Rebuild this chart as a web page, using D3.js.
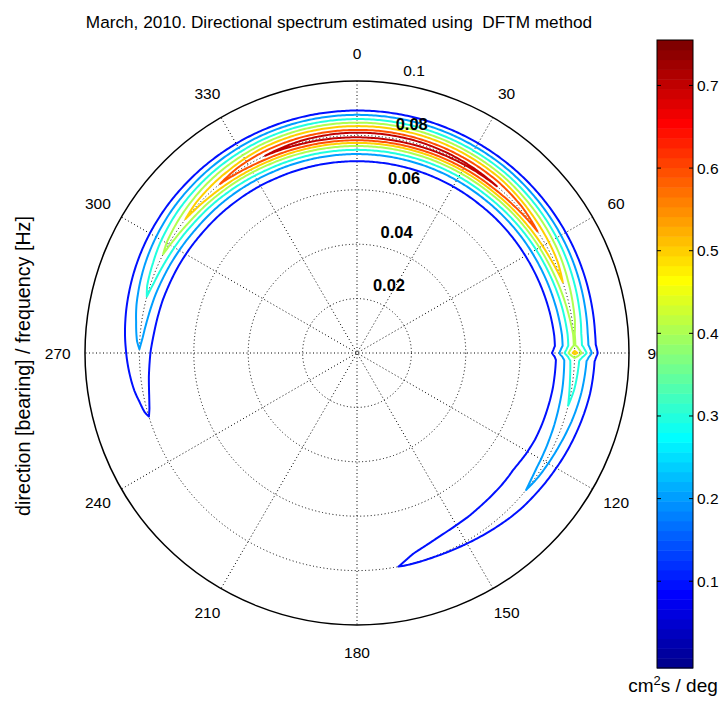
<!DOCTYPE html>
<html>
<head>
<meta charset="utf-8">
<script src="https://cdn.jsdelivr.net/npm/d3@7"></script>
<style>
  body { margin: 0; background: #fff; }
  text { font-family: "Liberation Sans", Arial, Helvetica, sans-serif; }
</style>
</head>
<body>
<div id="chart"></div>
<script>
// Directional spectrum, March 2010 (DFTM method)

// spectral density along the crest of the ring, by bearing (deg), going clockwise from 180 round to 180
const bearings = [180, 200, 220, 240, 253, 262, 271, 278, 285, 291, 297, 303, 308, 315, 321, 328, 335, 345, 355,
    5, 15, 25, 40, 48, 56, 64, 71, 78, 85, 88, 89, 90, 91, 92, 95, 100, 104, 110, 120, 129, 140, 150, 160, 165, 169, 175, 180];
const crestDensity = [0, 0.01, 0.03, 0.06, 0.1, 0.15, 0.2, 0.25, 0.3, 0.35, 0.4, 0.45, 0.5, 0.55, 0.6, 0.65, 0.7, 0.735, 0.75,
    0.755, 0.75, 0.735, 0.7, 0.65, 0.6, 0.55, 0.5, 0.45, 0.41, 0.41, 0.47, 0.54, 0.42, 0.36, 0.345, 0.32, 0.3, 0.27, 0.23, 0.2, 0.172, 0.147, 0.122, 0.11, 0.1, 0.07, 0.04];

// relative shape of the spectrum across frequency (Hz)
const freqs = [0.058, 0.064, 0.066, 0.068, 0.070, 0.071, 0.072, 0.073, 0.074, 0.075, 0.076, 0.077, 0.078, 0.079, 0.080,
    0.081, 0.082, 0.083, 0.084, 0.085, 0.086, 0.087, 0.088, 0.089, 0.090, 0.092, 0.094, 0.096, 0.102];
const freqShape = [0, 0, 0.03, 0.07, 0.115, 0.15, 0.2, 0.255, 0.33, 0.43, 0.52, 0.63, 0.77, 0.9, 1,
    0.93, 0.8, 0.71, 0.6, 0.5, 0.4, 0.31, 0.23, 0.14, 0.09, 0.04, 0.01, 0, 0];

// in the south-east tail the spectrum reaches lower frequencies and is narrower above the crest
const spreadBearings = [90, 100, 112, 116, 121, 127, 133, 137, 146, 153, 159, 164, 169, 175];
const lowSideSpread = [1, 1.1, 1.3, 1.38, 1.57, 1.88, 2.03, 2.15, 2.45, 2.75, 3.0, 3.25, 3.3, 1];
const highSideSpread = [1, 1, 0.9, 0.86, 0.8, 0.74, 0.675, 0.6, 0.37, 0.2, 0.1, 0.1, 0.2, 1];

const levels = [0.1, 0.2, 0.3, 0.4, 0.5, 0.6, 0.7];
const radialTicks = [0.02, 0.04, 0.06, 0.08, 0.1];
const angleTicks = d3.range(0, 360, 30);
const colorTicks = [0.1, 0.2, 0.3, 0.4, 0.5, 0.6, 0.7];
const colorDomain = [-0.005, 0.755];

const width = 722, height = 705;
const cx = 357, cy = 353, R = 272;

const svg = d3.select('#chart').append('svg')
    .attr('width', width)
    .attr('height', height);

const rScale = d3.scaleLinear().domain([0, 0.1]).range([0, R]);

// MATLAB style jet colormap, 64 steps
function jetRow(i) { // i is 1-based
    const u = k => (k < 1 || k > 47) ? 0 : k <= 16 ? k / 16 : k <= 31 ? 1 : (48 - k) / 16;
    return d3.rgb(255 * u(i - 24), 255 * u(i - 8), 255 * u(i + 8)).toString();
}
const nColors = 64;
function colorFor(v) {
    let idx = Math.floor((v - colorDomain[0]) / (colorDomain[1] - colorDomain[0]) * nColors) + 1;
    idx = Math.max(1, Math.min(nColors, idx));
    return jetRow(idx);
}

function toXY(bearing, f) {
    const a = bearing * Math.PI / 180, r = rScale(f);
    return [cx + r * Math.sin(a), cy - r * Math.cos(a)];
}

// ---- grid ----
const grid = svg.append('g').attr('class', 'grid');
radialTicks.slice(0, -1).forEach(t => {
    grid.append('circle')
        .attr('cx', cx).attr('cy', cy).attr('r', rScale(t))
        .attr('fill', 'none').attr('stroke', '#000')
        .attr('stroke-width', 1).attr('stroke-dasharray', '1,2.5');
});
[0, 30, 60, 90, 120, 150].forEach(b => {
    const p1 = toXY(b, 0.1), p2 = toXY(b + 180, 0.1);
    grid.append('line')
        .attr('x1', p1[0]).attr('y1', p1[1]).attr('x2', p2[0]).attr('y2', p2[1])
        .attr('stroke', '#000').attr('stroke-width', 1).attr('stroke-dasharray', '1,2.5');
});
grid.append('circle')
    .attr('cx', cx).attr('cy', cy).attr('r', rScale(0.1))
    .attr('fill', 'none').attr('stroke', '#000').attr('stroke-width', 1.5);

// angle labels
angleTicks.forEach(b => {
    const p = toXY(b, 0.11);
    svg.append('text')
        .attr('x', p[0]).attr('y', p[1])
        .attr('text-anchor', 'middle').attr('dominant-baseline', 'central')
        .attr('font-size', 15.5).text(b);
});

// ---- contours ----
function unwrap(list) {
    let prev = -Infinity, turn = 0;
    return list.map(b => {
        if (b + turn < prev) turn += 360;
        prev = b + turn;
        return b + turn;
    });
}
const unwrapped = unwrap(bearings);
const dirScale = d3.scaleLinear().domain(unwrapped).range(crestDensity).clamp(true);
const freqScale = d3.scaleLinear().domain(freqs).range(freqShape).clamp(true);
const spreadDomain = spreadBearings.map(b => b + 360);
const lowScale = d3.scaleLinear().domain(spreadDomain).range(lowSideSpread).clamp(true);
const highScale = d3.scaleLinear().domain(spreadDomain).range(highSideSpread).clamp(true);
const crestFreq = freqs[freqShape.indexOf(1)];

const th0 = unwrapped[0], dth = 0.5;
const f0 = freqs[0], df = 0.0002;
const nx = Math.round((unwrapped[unwrapped.length - 1] - th0) / dth) + 1;
const ny = Math.round((freqs[freqs.length - 1] - f0) / df) + 1;
const values = new Array(nx * ny);
for (let i = 0; i < nx; i++) {
    const th = th0 + i * dth;
    const d = dirScale(th), lo = lowScale(th), hi = highScale(th);
    for (let j = 0; j < ny; j++) {
        const f = f0 + j * df;
        const w = f < crestFreq ? lo : hi;
        values[j * nx + i] = d * freqScale(crestFreq + (f - crestFreq) / w);
    }
}

const contours = d3.contours().size([nx, ny]).thresholds(levels)(values);
const line = d3.line().curve(d3.curveLinearClosed);

const cg = svg.append('g').attr('class', 'contours');
contours.forEach(c => {
    c.coordinates.forEach(poly => {
        poly.forEach(ring => {
            const pts = ring.map(([x, y]) => toXY(th0 + (x - 0.5) * dth, f0 + (y - 0.5) * df));
            cg.append('path')
                .attr('d', line(pts))
                .attr('fill', 'none')
                .attr('stroke', colorFor(c.value))
                .attr('stroke-width', 2)
                .attr('stroke-linejoin', 'round');
        });
    });
});

// radial labels (placed at 8 degrees east of north)
radialTicks.forEach(t => {
    const p = toXY(8, t + 0.001);
    svg.append('text')
        .attr('x', p[0] + 8).attr('y', p[1] - 5)
        .attr('font-size', t === 0.1 ? 15.5 : 16.5)
        .attr('font-weight', t === 0.1 ? 'normal' : 'bold')
        .text(t);
});

// title and axis label
svg.append('text')
    .attr('x', 339).attr('y', 28)
    .attr('text-anchor', 'middle').attr('font-size', 17.2)
    .attr('xml:space', 'preserve')
    .text('March, 2010. Directional spectrum estimated using  DFTM method');

svg.append('text')
    .attr('transform', 'translate(30,366) rotate(-90)')
    .attr('text-anchor', 'middle').attr('font-size', 19.7)
    .text('direction [bearing] / frequency [Hz]');

// ---- colorbar ----
const cbX = 657, cbW = 36, cbTop = 40, cbBottom = 668;
const cbScale = d3.scaleLinear().domain(colorDomain).range([cbBottom, cbTop]);
const cb = svg.append('g').attr('class', 'colorbar');
const bandH = (cbBottom - cbTop) / nColors;
d3.range(1, nColors + 1).forEach(i => {
    cb.append('rect')
        .attr('x', cbX).attr('y', cbBottom - i * bandH)
        .attr('width', cbW).attr('height', bandH + 0.5)
        .attr('fill', jetRow(i));
});
cb.append('rect')
    .attr('x', cbX).attr('y', cbTop).attr('width', cbW).attr('height', cbBottom - cbTop)
    .attr('fill', 'none').attr('stroke', '#000').attr('stroke-width', 1);
colorTicks.forEach(t => {
    const y = cbScale(t);
    cb.append('line').attr('x1', cbX).attr('x2', cbX + 4).attr('y1', y).attr('y2', y).attr('stroke', '#000');
    cb.append('line').attr('x1', cbX + cbW - 4).attr('x2', cbX + cbW).attr('y1', y).attr('y2', y).attr('stroke', '#000');
    cb.append('text')
        .attr('x', cbX + cbW + 4).attr('y', y)
        .attr('dominant-baseline', 'central').attr('font-size', 15.5)
        .text(t);
});
const unit = cb.append('text')
    .attr('x', 673).attr('y', 692)
    .attr('text-anchor', 'middle').attr('font-size', 19);
unit.append('tspan').text('cm');
unit.append('tspan').attr('dy', -7).attr('font-size', 13).text('2');
unit.append('tspan').attr('dy', 7).text('s / deg');
</script>
</body>
</html>
